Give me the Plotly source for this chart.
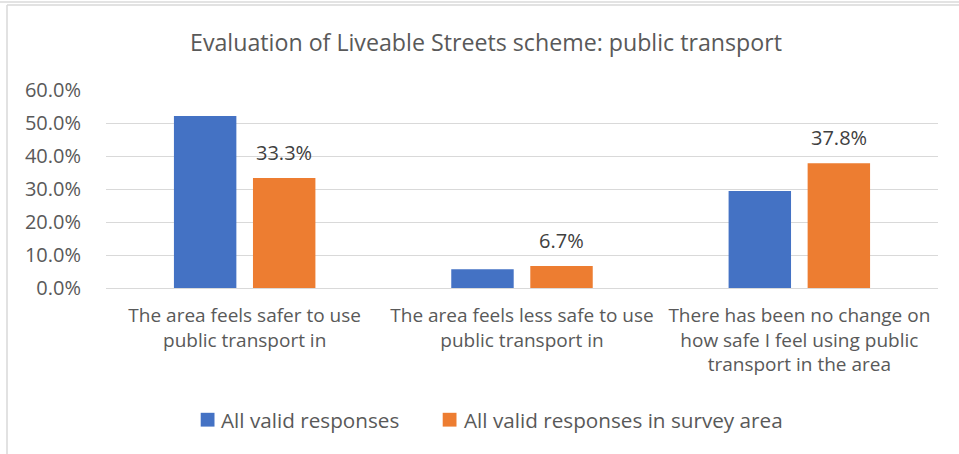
import plotly.graph_objects as go

categories = [
    "The area feels safer to use public transport in",
    "The area feels less safe to use public transport in",
    "There has been no change on how safe I feel using public transport in the area",
]
tick_labels = [
    "The area feels safer to use<br>public transport in",
    "The area feels less safe to use<br>public transport in",
    "There has been no change on<br>how safe I feel using public<br>transport in the area",
]
all_valid = [0.521, 0.057, 0.294]
survey_area = [0.333, 0.067, 0.378]
series_names = ["All valid responses", "All valid responses in survey area"]
series_colors = ["#4472C4", "#ED7D31"]
y_ticks = [0.0, 0.1, 0.2, 0.3, 0.4, 0.5, 0.6]

FONT = "Open Sans"
GREY = "#595959"

W, H = 959, 454
L, R, T, B = 106, 21, 90, 166
pw, ph = W - L - R, H - T - B


def px(x):
    return (x - L) / pw


def py(y):
    return (H - B - y) / ph


fig = go.Figure()
for name, vals, col in zip(series_names, [all_valid, survey_area], series_colors):
    fig.add_trace(go.Bar(x=categories, y=vals, name=name,
                         marker=dict(color=col, line=dict(width=0))))

for c, v in zip(categories, survey_area):
    fig.add_annotation(x=c, y=v, xref="x", yref="y", text=f"{v*100:.1f}%",
                       showarrow=False, xshift=39.5, yshift=10, yanchor="bottom",
                       font=dict(family=FONT, size=20, color="#404040"))

# legend (drawn Excel-style: square swatch tight against its label)
legend_items = [(200.7, 219.0), (442.7, 461.5)]
for (sx, tx), name, col in zip(legend_items, series_names, series_colors):
    fig.add_shape(type="rect", xref="paper", yref="paper",
                  x0=px(sx), x1=px(sx + 13.8), y0=py(412.8), y1=py(426.6),
                  fillcolor=col, line=dict(width=0))
    fig.add_annotation(xref="paper", yref="paper", x=px(tx), y=py(420),
                       xanchor="left", yanchor="middle", showarrow=False,
                       text=name, font=dict(family=FONT, size=20.7, color=GREY))

fig.update_layout(
    width=W, height=H,
    margin=dict(l=L, r=R, t=T, b=B, autoexpand=False),
    paper_bgcolor="white", plot_bgcolor="white",
    barmode="group", bargap=0.43, bargroupgap=0.21,
    title=dict(text="Evaluation of Liveable Streets scheme: public transport",
               x=486 / W, xref="container", xanchor="center",
               y=1 - 43 / H, yref="container", yanchor="middle",
               font=dict(family=FONT, size=23.2, color=GREY)),
    font=dict(family=FONT, size=20, color=GREY),
    showlegend=False,
    xaxis=dict(tickmode="array", tickvals=categories, ticktext=tick_labels,
               tickfont=dict(family=FONT, size=19, color=GREY),
               showgrid=False, showline=False, zeroline=False,
               ticks="outside", ticklen=10, tickcolor="rgba(0,0,0,0)"),
    yaxis=dict(range=[0, 0.6], tickvals=y_ticks, tickformat=".1%",
               tickfont=dict(family=FONT, size=20, color=GREY),
               showgrid=True, gridcolor="#d9d9d9", gridwidth=1,
               zeroline=True, zerolinecolor="#d9d9d9", zerolinewidth=1,
               showline=False, ticks="outside", ticklen=20,
               tickcolor="rgba(0,0,0,0)"),
)

# chart frame lines
fig.add_shape(type="line", xref="paper", yref="paper",
              x0=px(0), x1=px(W), y0=py(2), y1=py(2),
              line=dict(color="#e3e3e3", width=2))
fig.add_shape(type="line", xref="paper", yref="paper",
              x0=px(7), x1=px(W), y0=py(5), y1=py(5),
              line=dict(color="#d9d9d9", width=1.5))
fig.add_shape(type="line", xref="paper", yref="paper",
              x0=px(7), x1=px(7), y0=py(5), y1=py(H),
              line=dict(color="#d9d9d9", width=1.5))

fig.write_html("out.html", config={"displayModeBar": False},
               post_script="document.body.style.margin='0';")
